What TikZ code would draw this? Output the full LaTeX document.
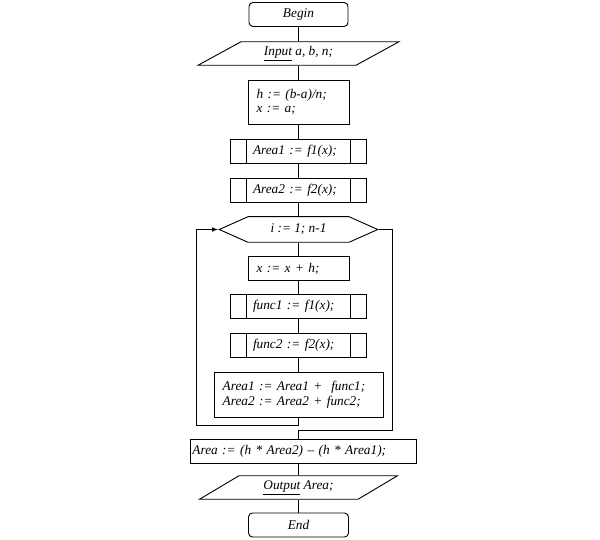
\documentclass[tikz,border=0pt]{standalone}
\usepackage{fontspec}
\setmainfont{Liberation Serif}
\usetikzlibrary{shapes.geometric,shapes.symbols,arrows.meta}

\begin{document}
\begin{tikzpicture}[x=1pt, y=-1pt, line width=0.9pt,
    every node/.style={font=\fontsize{13.3}{14.5}\selectfont\itshape, inner sep=0pt},
    term/.style={draw, rounded corners=4pt, minimum width=99pt, minimum height=24pt},
    io/.style={draw, trapezium, trapezium stretches=true, minimum height=23.5pt},
    proc/.style={draw, minimum height=24pt, align=left},
    subproc/.style={proc, text width=91pt, inner xsep=22.3pt, path picture={
        \draw ([xshift=16pt]path picture bounding box.north west)
          -- ([xshift=16pt]path picture bounding box.south west);
        \draw ([xshift=-16pt]path picture bounding box.north east)
          -- ([xshift=-16pt]path picture bounding box.south east);}},
    loophead/.style={draw, signal, signal to=west and east, signal pointer angle=48,
      minimum width=158.5pt, minimum height=25.6pt},
    back/.style={-{Latex[length=6pt,width=4.5pt]}}]
    \useasboundingbox (0,0) rectangle (600,540);
    \fill[white] (0,0) rectangle (600,540);
    %% --- Start, input and set-up ---
    \node[term] (begin) at (298.5,14.5) {Begin};
    \node[io, trapezium left angle=28.6, trapezium right angle=151.4,
      minimum width=201pt] (input) at (298.5,53.5) {\underline{Input} a, b, n;};
    \node[proc, minimum height=44pt, text width=84pt, inner xsep=8.5pt]
      (init) at (298.5,102) {h := (b-a)/n;\\x := a;};
    \node[subproc] (ar1) at (298.5,151.3) {Area1 := f1(x);};
    \node[subproc] (ar2) at (298.5,190.3) {Area2 := f2(x);};
    %% --- Loop over i ---
    \node[loophead] (loop) at (298.5,229.5) {i := 1; n-1};
    \node[proc, text width=84pt, inner xsep=8.5pt] (xh) at (298.5,268.7) {x := x + h;};
    \node[subproc] (fn1) at (298.5,306.7) {func1 := f1(x);};
    \node[subproc] (fn2) at (298.5,345.7) {func2 := f2(x);};
    \node[proc, minimum height=45pt, text width=151.6pt, inner xsep=8.7pt]
      (upd) at (298.5,394.8) {Area1 := Area1 + \ func1;\\Area2 := Area2 + func2;};
    %% --- Result and end ---
    \node[proc, text width=221.7pt, inner xsep=2.5pt] (area) at (303.3,451.7)
      {Area := (h * Area2) -- (h * Area1);};
    \node[io, trapezium left angle=30.5, trapezium right angle=149.5,
      minimum width=198pt] (output) at (298.5,487.5) {\underline{Output} Area;};
    \node[term, minimum width=100pt] (end) at (298.5,525) {End};
    %% --- Straight connectors ---
    \foreach \a/\b in {begin/input, input/init, init/ar1, ar1/ar2, ar2/loop,
        loop/xh, xh/fn1, fn1/fn2, fn2/upd, area/output, output/end} {
      \draw (\b.north |- \a.south) -- (\b.north);
    }
    %% loop back and loop exit
    \coordinate (backbot) at (196,425);
    \coordinate (exitright) at (392,430);
    \draw[back] (upd.south) |- (backbot) |- (loop.west);
    \draw (loop.east) -| (exitright) -| (loop.south |- area.north);
  \end{tikzpicture}
\end{document}
